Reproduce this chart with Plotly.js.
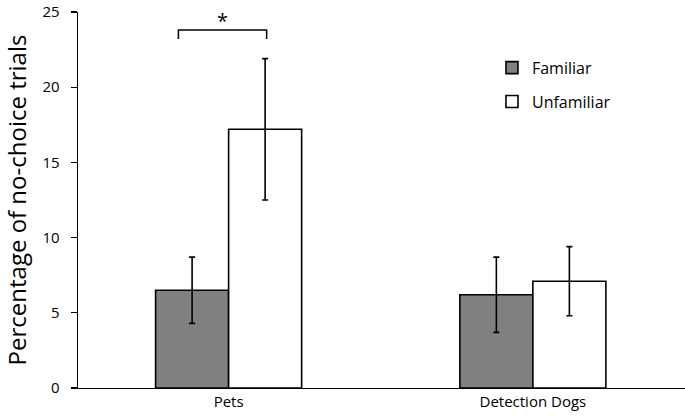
<!DOCTYPE html>
<html><head><meta charset="utf-8">
<script src="https://cdn.plot.ly/plotly-3.0.1.min.js"></script>
<style>html,body{margin:0;padding:0;background:#fff}#c{width:685px;height:420px}</style>
</head><body><div id="c"></div>
<script>
const categories = ["Pets", "Detection Dogs"];
const familiar = [6.5, 6.2];
const familiarErr = [2.2, 2.5];
const unfamiliar = [17.2, 7.1];
const unfamiliarErr = [4.7, 2.3];
const yTicks = [0, 5, 10, 15, 20, 25];
const sigBracket = {x0: -0.165, x1: 0.125, y: 23.8, leg: 0.6, label: "*"};

const font = "'Open Sans', Lato, sans-serif";
const common = {type: "bar", x: categories};
const traces = [
  Object.assign({}, common, {name: "Familiar", y: familiar, legendgroup: "a",
    marker: {color: "#808080", line: {color: "#000", width: 1.6}},
    error_y: {type: "data", array: familiarErr, visible: true, color: "#000", thickness: 1.6, width: 3}}),
  Object.assign({}, common, {name: "Unfamiliar", y: unfamiliar, legendgroup: "b",
    marker: {color: "#fff", line: {color: "#000", width: 1.6}},
    error_y: {type: "data", array: unfamiliarErr, visible: true, color: "#000", thickness: 1.6, width: 3}})
];
const layout = {
  width: 685, height: 420,
  margin: {l: 78, r: 0, t: 12, b: 32},
  paper_bgcolor: "#fff", plot_bgcolor: "#fff",
  barmode: "group", bargap: 0.52, bargroupgap: 0,
  font: {family: font, color: "#000"},
  showlegend: true,
  legend: {x: 0.682, y: 0.897, xanchor: "left", yanchor: "top", font: {size: 16, family: font},
           traceorder: "grouped", tracegroupgap: 10, bgcolor: "rgba(0,0,0,0)"},
  xaxis: {range: [-0.495, 1.5], showline: true, linecolor: "#000", linewidth: 1.3,
          ticks: "", tickfont: {size: 15, family: font}, showgrid: false, zeroline: false},
  yaxis: {range: [0, 25], tickvals: yTicks, showline: true, linecolor: "#000", linewidth: 1.3,
          ticks: "outside", ticklen: 6, tickcolor: "#000", tickwidth: 1.3, ticklabelstandoff: 8,
          ticklabeloverflow: "allow",
          tickfont: {size: 15, family: font}, showgrid: false, zeroline: false,
          title: {text: "Percentage of no-choice trials", font: {size: 24, family: font}, standoff: 12}},
  shapes: [{type: "path", xref: "x", yref: "y",
    path: `M ${sigBracket.x0} ${sigBracket.y - sigBracket.leg} L ${sigBracket.x0} ${sigBracket.y} L ${sigBracket.x1} ${sigBracket.y} L ${sigBracket.x1} ${sigBracket.y - sigBracket.leg}`,
    line: {color: "#000", width: 1.5}}],
  annotations: [{xref: "x", yref: "y", x: (sigBracket.x0 + sigBracket.x1) / 2, y: sigBracket.y,
    text: sigBracket.label, showarrow: false, yanchor: "bottom", yshift: -6, font: {size: 20, family: font}}]
};
Plotly.newPlot("c", traces, layout, {displayModeBar: false, staticPlot: true});
</script></body></html>
